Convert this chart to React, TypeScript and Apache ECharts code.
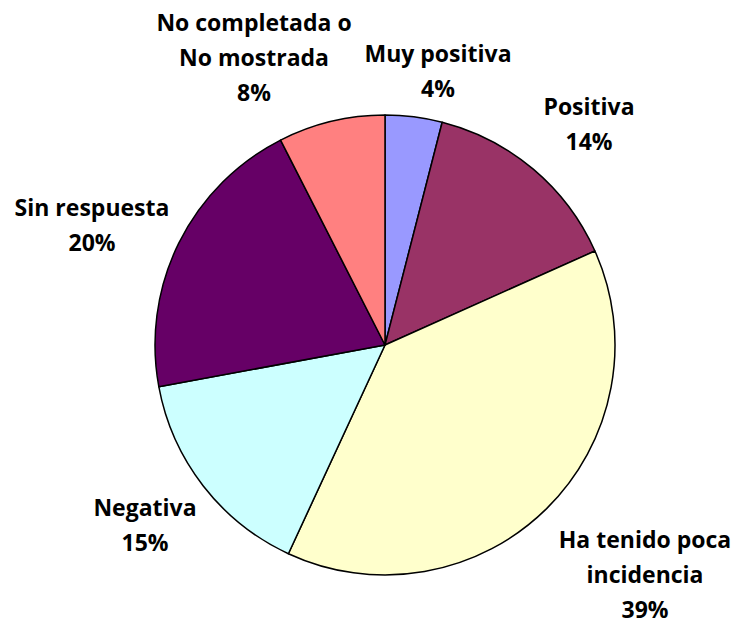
import React, { useEffect, useRef } from "react";
import * as echarts from "echarts";

const categories = [
  "Muy positiva",
  "Positiva",
  "Ha tenido poca\nincidencia",
  "Negativa",
  "Sin respuesta",
  "No completada o\nNo mostrada",
];
const values = [4.0, 14.3, 38.6, 15.2, 20.4, 7.5];
const colors = ["#9999FF", "#993366", "#FFFFCC", "#CCFFFF", "#660066", "#FF8080"];
// label centre positions (px) for each slice
const labelPositions: [number, number][] = [
  [438, 70],
  [589, 123],
  [645, 574],
  [145, 524],
  [92, 224],
  [254, 57],
];

export default function App() {
  const ref = useRef<HTMLDivElement>(null);
  useEffect(() => {
    if (!ref.current) return;
    const chart = echarts.init(ref.current, undefined, { renderer: "svg" });
    chart.setOption({
      animation: false,
      backgroundColor: "#ffffff",
      series: [
        {
          type: "pie",
          center: [385, 345],
          radius: 230,
          startAngle: 90,
          clockwise: true,
          percentPrecision: 0,
          avoidLabelOverlap: false,
          data: categories.map((name, i) => ({
            name,
            value: values[i],
            itemStyle: { color: colors[i] },
          })),
          itemStyle: { borderColor: "#000000", borderWidth: 1.5 },
          label: {
            show: true,
            position: "outside",
            formatter: "{b}\n{d}%",
            fontFamily: "Open Sans",
            fontWeight: "bold",
            fontSize: 23,
            lineHeight: 35,
            color: "#000000",
            align: "center",
          },
          labelLine: { show: false },
          labelLayout: (params: any) => {
            const p = labelPositions[params.dataIndex];
            return { x: p[0], y: p[1], align: "center", verticalAlign: "middle" };
          },
          emphasis: { disabled: true },
        },
      ],
    });
    return () => chart.dispose();
  }, []);
  return (
    <div
      ref={ref}
      style={{ position: "fixed", left: 0, top: 0, width: 741, height: 625 }}
    />
  );
}
